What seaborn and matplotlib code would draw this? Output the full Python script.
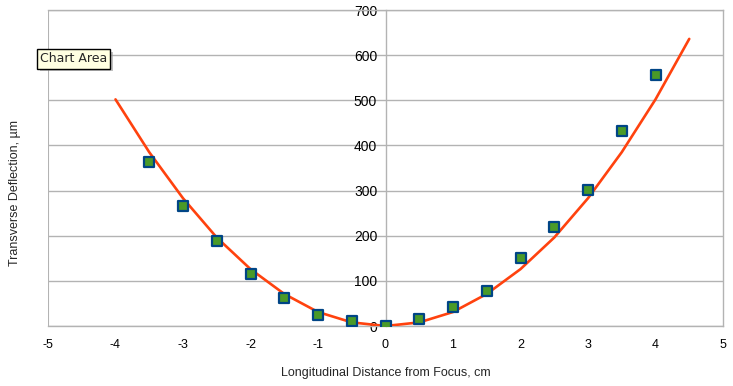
import matplotlib.pyplot as plt
import matplotlib.patheffects as pe
import seaborn as sns
import numpy as np
import pandas as pd

# measured points
x_meas = [-3.5, -3, -2.5, -2, -1.5, -1, -0.5, 0, 0.5, 1, 1.5, 2, 2.5, 3, 3.5, 4]
y_meas = [363, 266, 188, 115, 62, 24, 11, 0, 15, 42, 78, 151, 219, 301, 432, 556]

# fitted curve
x_fit = [-4, -3.5, -3, -2.5, -2, -1.5, -1, -0.5, 0, 0.5, 1, 1.5, 2, 2.5, 3, 3.5, 4, 4.5]
y_fit = [502, 385, 283, 196, 126, 71, 31, 8, 0, 8, 31, 71, 126, 196, 283, 385, 502, 636]

x_ticks = [-5, -4, -3, -2, -1, 0, 1, 2, 3, 4, 5]
y_ticks = [0, 100, 200, 300, 400, 500, 600, 700]

meas = pd.DataFrame({"x": x_meas, "y": y_meas})
fit = pd.DataFrame({"x": x_fit, "y": y_fit})

sns.set_style("white")
plt.rcParams['font.family'] = ['Liberation Sans Narrow', 'Liberation Sans', 'DejaVu Sans']

grey = '#b3b3b3'
fig = plt.figure(figsize=(7.33, 3.86), dpi=100)
ax = fig.add_axes([48 / 733, 60 / 386, 675 / 733, 316 / 386])

sns.lineplot(data=fit, x="x", y="y", ax=ax, color='#ff420e', linewidth=1.9, zorder=3)
sns.scatterplot(data=meas, x="x", y="y", ax=ax, marker='s', s=60,
                color='#4a9a28', edgecolor='#004586', linewidth=1.6, zorder=4)

ax.set_xlim(-5, 5)
ax.set_ylim(0, 700)
ax.set_xticks(x_ticks)
ax.set_yticks(y_ticks)
ax.set_xticklabels([str(t) for t in x_ticks], fontsize=9)
ax.set_yticklabels([str(t) for t in y_ticks], fontsize=9)

ax.yaxis.grid(True, color=grey, linewidth=1)
ax.xaxis.grid(False)
for s in ax.spines.values():
    s.set_color(grey)
    s.set_linewidth(1)
ax.spines['left'].set_position(('data', 0))
ax.axvline(-5, color=grey, linewidth=1.5, zorder=1)

ax.tick_params(axis='x', length=5, width=1, color=grey, pad=4, direction='out', labelcolor='black')
ax.tick_params(axis='y', length=0, pad=6, labelcolor='black')

ax.set_ylabel("")
ax.set_xlabel("Longitudinal Distance from Focus, cm", fontsize=9, labelpad=12)
fig.text(15 / 733, 193 / 386, "Transverse Deflection, µm", rotation=90,
         ha='center', va='center', fontsize=9)

# tooltip with a soft shadow
tip = fig.text(40 / 733, 327 / 386, "Chart Area", fontsize=9, ha='left', va='center',
               family=['DejaVu Sans'],
               bbox=dict(boxstyle='square,pad=0.25', facecolor='#ffffe1', edgecolor='black', linewidth=1))
tip.get_bbox_patch().set_path_effects([pe.SimplePatchShadow(offset=(2, -2), shadow_rgbFace='#999999', alpha=0.6),
                                       pe.Normal()])

fig.savefig("out.png", dpi=100)
